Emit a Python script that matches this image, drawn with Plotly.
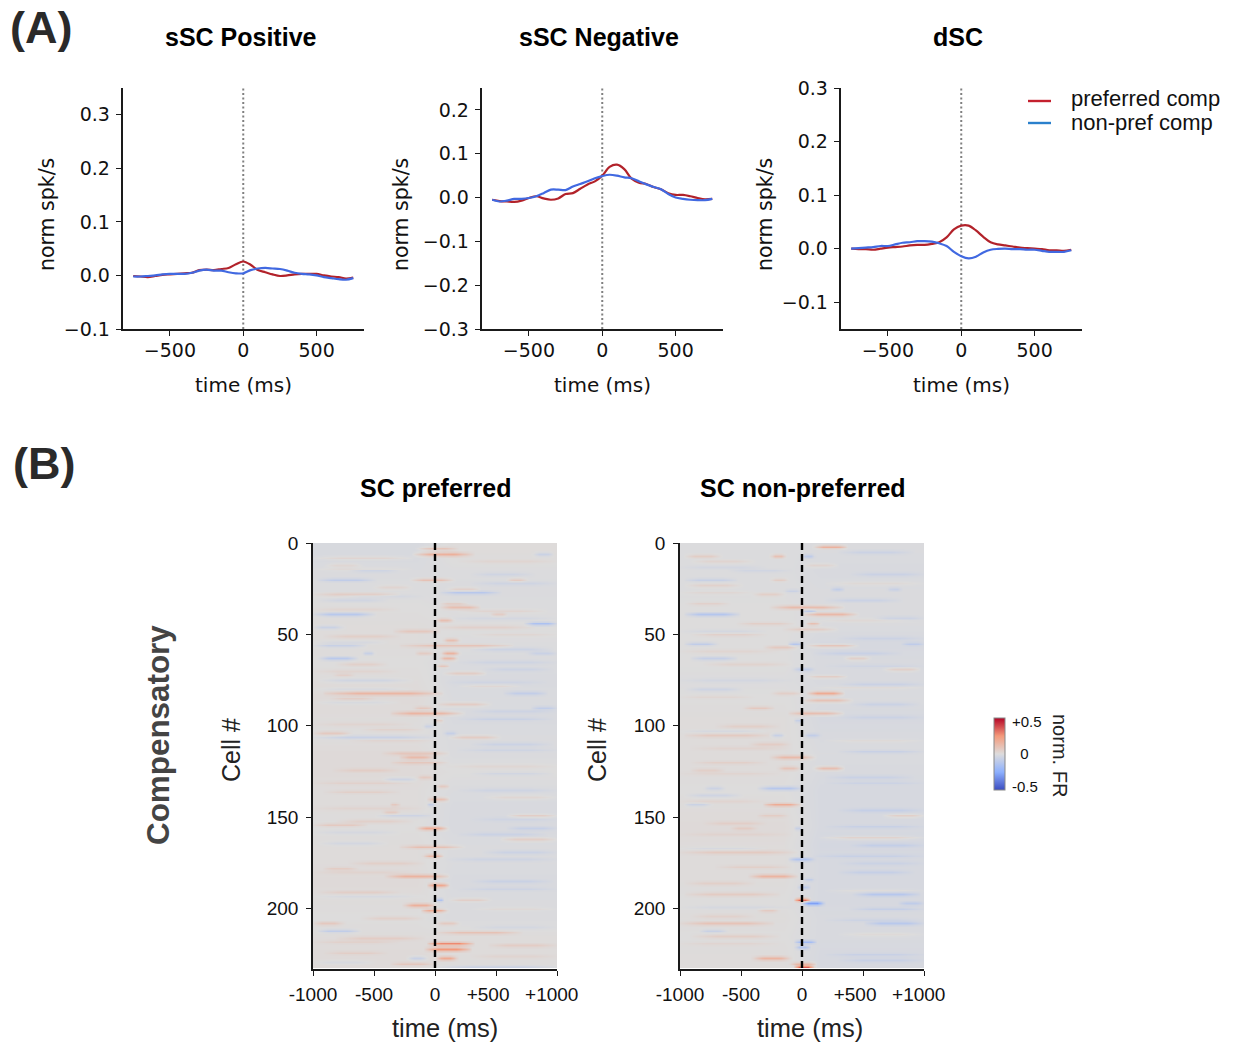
import plotly.graph_objects as go

W, H = 1235, 1045
DEJA = "DejaVu Sans"
ARIAL = "Liberation Sans"
RED, BLUE = "#b2222a", "#4169e1"
LEG_RED, LEG_BLUE = "#c4202e", "#2a80cc"

time_ms = [-750, -700, -650, -600, -550, -500, -450, -400, -350, -300, -250, -200, -150, -100, -50, 0,
           50, 100, 150, 200, 250, 300, 350, 400, 450, 500, 550, 600, 650, 700, 750]

pos_pref = [-.001, -.002, -.003, -.001, .001, .002, .003, .004, .005, .010, .011, .010, .012, .014, .021, .026,
            .020, .010, .006, .002, -.001, .000, .002, .003, .003, .003, .000, -.002, -.003, -.006, -.004]
pos_non = [-.002, -.002, -.001, .000, .002, .003, .003, .003, .005, .009, .011, .009, .009, .006, .004, .004,
           .010, .013, .014, .013, .012, .009, .005, .003, .002, .000, -.003, -.005, -.007, -.008, -.005]
neg_pref = [-.005, -.008, -.009, -.010, -.007, -.001, .003, -.002, -.005, -.002, .008, .010, .020, .030, .037, .050,
            .070, .075, .065, .043, .034, .031, .024, .019, .010, .006, .006, .003, -.001, -.004, -.003]
neg_non = [-.005, -.009, -.007, -.003, -.003, -.001, .003, .010, .018, .018, .017, .025, .031, .037, .044, .049,
           .052, .050, .046, .044, .037, .030, .024, .019, .008, .000, -.003, -.005, -.006, -.006, -.003]
dsc_pref = [.000, -.001, -.001, -.002, .000, .002, .003, .004, .006, .007, .007, .009, .012, .021, .036, .043,
            .043, .034, .022, .012, .008, .006, .004, .002, .001, .000, -.001, -.003, -.003, -.004, -.002]
dsc_non = [.000, .001, .002, .003, .005, .005, .008, .011, .012, .014, .014, .013, .010, .005, -.006, -.014,
           -.018, -.015, -.007, -.002, -.0005, .000, -.001, -.001, -.002, -.002, -.004, -.006, -.006, -.006, -.003]

n_cells = 233
heat_time = list(range(-1000, 1001, 25))
# overall tint per 10 cell rows, before and after time zero
tint_pref_before = [-.02, -.012, -.006, .00, .006, .006, .00, .006, .012, .006, .00, .012, .012, .006, .006, .00, .006, .006, .012, .006, .00, .006, .012, .006]
tint_pref_after = [.006, -.006, -.012, -.006, .00, -.006, -.012, -.018, -.012, -.018, -.012, -.012, .00, -.012, -.018, -.018, -.012, -.012, -.018, -.012, -.012, .006, .006, .00]
tint_non_before = [-.006, -.006, -.006, .00, .00, .00, .00, -.006, .00, .006, .006, .006, .006, .00, .006, .012, .006, .006, .006, .00, .006, .00, .006, .006]
tint_non_after = [-.012, -.018, -.012, -.012, -.012, -.024, -.018, -.018, -.012, -.024, -.018, -.012, -.018, -.024, -.024, -.024, -.03, -.024, -.024, -.024, -.018, -.018, -.024, -.024]
# visible streaks: (cell row, t start, t end, value)
streaks_pref = [
 (3,-150,180,.10),(6,-180,300,.18),(8,-1000,-180,.05),(6,800,970,-.07),(20,-970,-500,-.09),(20,-200,150,.12),
 (20,590,750,.08),(27,40,530,-.12),(28,-1000,-280,.07),(25,100,370,.06),(33,40,260,.07),(35,40,370,.13),
 (39,-1000,-500,-.13),(39,450,590,.07),(42,10,150,.12),(44,730,1000,-.17),(46,-1000,-750,-.07),(46,0,800,.05),
 (48,-340,40,.08),(53,70,200,.13),(56,-1000,-560,-.08),(56,-290,640,.11),(60,-170,-15,.07),(60,50,200,.18),
 (60,750,1000,-.06),(60,-600,-500,-.08),(63,-950,-640,-.12),(63,40,180,.16),(67,10,120,.10),(71,70,420,.08),
 (72,-830,-670,.05),(82,-920,70,.15),(82,560,920,-.08),(88,10,450,.08),(90,-180,-15,.08),(90,780,1000,-.08),
 (93,-370,230,.16),(97,-15,70,.07),(100,-100,-15,-.06),(104,-1000,-700,.08),(106,-1000,-15,-.07),(106,120,530,.08),
 (104,70,180,-.07),(115,-430,120,.08),(117,-290,-10,.13),(120,-370,100,.08),(124,-830,-290,.05),(128,-150,-15,.07),
 (133,10,120,.08),(129,-430,-150,-.06),(140,-70,120,.12),(143,-370,-290,.08),(143,-70,0,-.08),(147,-430,-290,.07),
 (149,-480,-15,-.06),(149,590,1000,.08),(154,-1000,-560,.08),(156,-150,100,.20),(156,590,1000,-.06),(162,530,1000,.07),
 (166,-290,230,.12),(171,-100,70,.15),(178,-920,-640,.06),(182,-400,120,.16),(187,-70,120,.23),(195,0,70,-.15),
 (195,120,450,.07),(198,-260,0,.18),(201,-120,100,.20),(208,-1000,-750,.08),(208,10,200,.08),(212,-970,-620,-.10),
 (213,10,700,.11),(219,-70,310,.30),(222,-80,290,.27),(220,430,1000,.06),(227,10,180,.20),(227,-230,-70,-.08),
 (230,-370,-15,.08),(232,10,1000,-.07),
 (12,-900,-600,.04),(15,-700,-300,-.05),(17,300,800,-.04),(24,-500,-200,.04),(31,-950,-400,-.04),(37,200,900,.04),
 (51,-900,-300,.05),(58,300,950,-.05),(66,-800,-400,.05),(69,400,950,-.04),(75,-950,-200,-.05),(78,200,700,.04),
 (85,-850,-500,.05),(96,200,950,-.05),(102,-600,-100,.04),(110,300,950,-.05),(126,300,950,-.04),(136,-900,-300,.05),
 (139,400,1000,.04),(152,-800,-200,.05),(159,200,900,-.05),(164,-950,-400,-.04),(169,400,1000,-.05),(175,-700,-100,.05),
 (185,300,950,-.05),(191,-950,-300,.05),(205,-600,-100,.05),(216,-800,-100,.06),(224,-900,-400,.05),
 (10,200,1000,.03),(14,-1000,-200,.03),(22,300,1000,-.04),(29,-800,-100,-.03),(36,-1000,-300,.03),(41,100,1000,-.03),
 (50,300,1000,.03),(54,-1000,-400,-.03),(65,200,1000,-.04),(70,-1000,-300,.03),(76,100,900,-.03),(80,-1000,-200,-.03),
 (87,-1000,-300,-.03),(92,300,1000,-.04),(99,-1000,-200,.03),(108,-700,0,.03),(113,200,1000,-.04),(122,100,1000,.03),
 (131,-1000,-200,.04),(135,200,1000,-.04),(145,-1000,-100,.03),(151,300,1000,-.03),(158,-1000,-300,-.03),(173,100,1000,-.04),
 (180,-1000,-200,.03),(189,200,1000,-.04),(193,-1000,-100,-.03),(200,300,1000,.03),(210,300,1000,-.03),(218,-1000,-300,.04),
 (226,300,1000,.03),(229,-1000,-500,-.03),
]
streaks_non = [
 (2,100,370,.19),(7,-960,-670,.07),(7,-260,-140,.12),(7,0,100,-.10),(12,10,290,.05),(20,-970,-530,-.07),(20,-260,-120,.07),
 (25,230,340,-.08),(25,700,810,-.06),(28,-400,-150,.06),(26,-150,-15,-.06),(35,-260,340,.14),(37,0,120,-.10),
 (39,-970,-510,-.14),(39,10,450,.16),(44,-530,-70,.06),(44,30,150,.13),(47,-150,290,.07),(55,-970,-700,-.10),
 (55,-120,0,-.13),(56,40,450,.12),(55,810,1000,-.08),(57,-310,-40,.08),(63,-920,-530,-.08),(63,340,560,.07),
 (69,670,970,.07),(69,-80,100,-.08),(73,40,370,.08),(82,-260,0,.06),(82,40,340,.22),(86,10,400,.12),
 (90,-480,-230,.08),(93,-120,340,.14),(97,-70,10,-.08),(105,-970,-260,.07),(105,-260,-150,-.08),(105,10,150,-.08),
 (110,-430,-100,.06),(117,-260,100,.14),(123,-200,-15,.10),(123,100,340,.14),(124,-920,-640,.05),(134,-800,-640,-.06),
 (134,-360,0,-.13),(143,-320,-15,.20),(143,-970,-750,-.07),(149,670,1000,.08),(149,-370,-120,.06),(156,-590,-370,.06),
 (156,-70,0,-.07),(161,150,1000,.07),(169,-1000,-40,.07),(173,-120,100,-.14),(182,-430,-40,.16),(184,10,100,-.08),
 (188,-40,70,-.10),(192,-970,-180,.07),(192,425,970,-.11),(195,-70,70,.38),(197,0,180,-.30),(197,780,1000,-.08),
 (201,-360,-200,.07),(208,-1000,-230,.10),(208,510,1000,-.11),(212,-840,-620,-.07),(218,-70,120,-.20),(221,-60,70,-.13),
 (227,-400,-100,.16),(230,-100,120,.17),(232,-70,100,.40),
 (5,300,900,-.05),(10,-900,-400,.04),(15,-600,-100,-.04),(17,400,1000,-.05),(23,-950,-500,.05),(31,200,800,-.05),
 (33,-950,-600,.05),(41,600,1000,-.05),(50,-900,-300,.05),(60,100,800,-.05),(66,-800,-100,.04),(77,300,1000,-.05),
 (80,-950,-500,-.05),(88,400,950,-.05),(100,-700,-200,.05),(114,300,1000,-.06),(120,-900,-300,.05),(128,200,900,-.05),
 (138,-950,-500,-.05),(146,300,1000,-.06),(153,-800,-300,.05),(165,400,1000,-.06),(177,-700,-100,.05),(180,300,900,-.06),
 (186,-950,-400,.05),(200,400,1000,-.06),(204,-900,-400,.04),(215,-900,-200,.06),(225,200,1000,-.05),
 (13,-1000,-300,-.03),(22,200,1000,.03),(27,-1000,-400,.03),(42,100,1000,.03),(48,-1000,-300,-.03),(52,300,1000,-.04),
 (59,-1000,-200,.03),(67,200,1000,-.03),(75,-1000,-100,-.03),(79,100,1000,.03),(84,-1000,-400,.03),(95,300,1000,-.04),
 (103,-1000,-300,-.03),(108,200,1000,.03),(112,-900,-100,.03),(126,-1000,-200,.03),(131,200,1000,-.04),(141,-1000,-300,.03),
 (155,200,1000,-.05),(159,-1000,-100,.03),(167,-1000,-300,-.03),(171,100,1000,-.05),(175,300,1000,-.04),(190,200,1000,.03),
 (199,-1000,-100,-.03),(206,200,1000,-.04),(214,300,1000,.03),(219,-1000,-200,.03),(228,300,1000,-.05),
]

x_ticks_a = [-500, 0, 500]
x_ticktext_a = ["\u2212500", "0", "500"]
y_ticks_pos = [-.1, 0, .1, .2, .3]
y_ticks_neg = [-.3, -.2, -.1, 0, .1, .2]
y_ticks_dsc = [-.1, 0, .1, .2, .3]
x_ticks_b = [-1000, -500, 0, 500, 1000]
x_ticktext_b = ["-1000", "-500", "0", "+500\u00a0\u00a0\u00a0", "+1000\u00a0\u00a0"]
y_ticks_b = [0, 50, 100, 150, 200]
cbar_ticks = [.5, 0, -.5]
cbar_ticktext = ["+0.5", "\u00a0\u00a00", "-0.5"]

COOLWARM = [[0, "#3b4cc0"], [.25, "#8db0fe"], [.5, "#dddcdc"], [.75, "#f49a7b"], [1, "#b40426"]]


def px_x(a, b):
    return [a / W, b / W]


def px_y(top, bottom):
    return [1 - bottom / H, 1 - top / H]


def tint_at(tints, row):
    pos = min(max(row / 10 - .5, 0), len(tints) - 1)
    low = int(pos)
    high = min(low + 1, len(tints) - 1)
    return tints[low] + (tints[high] - tints[low]) * (pos - low)


def build_matrix(streaks, tint_before, tint_after):
    z = []
    for i in range(n_cells):
        before, after = tint_at(tint_before, i), tint_at(tint_after, i)
        z.append([before + (after - before) * min(max((t + 150) / 300, 0), 1) for t in heat_time])
    for row, t0, t1, val in streaks:
        mid, half = (t0 + t1) / 2, max((t1 - t0) / 2, 25)
        for j, t in enumerate(heat_time):
            if t0 <= t <= t1:
                amount = val * min(1, 1.5 * (1 - abs(t - mid) / half) + .15)
                z[row][j] += amount
                if row > 0:
                    z[row - 1][j] += .3 * amount
                if row < n_cells - 1:
                    z[row + 1][j] += .3 * amount
    return z


fig = go.Figure()

panels = [
    ("x", "y", 122.5, 364, [-.1, .35], y_ticks_pos, ["\u22120.1", "0.0", "0.1", "0.2", "0.3"], pos_pref, pos_non, 47),
    ("x2", "y2", 481.5, 723, [-.3, .25], y_ticks_neg, ["\u22120.3", "\u22120.2", "\u22120.1", "0.0", "0.1", "0.2"], neg_pref, neg_non, 401),
    ("x3", "y3", 840.5, 1082, [-.15, .3], y_ticks_dsc, ["\u22120.1", "0.0", "0.1", "0.2", "0.3"], dsc_pref, dsc_non, 765),
]
SPINE = dict(showgrid=False, zeroline=False, showline=True, linecolor="#1a1a1a", linewidth=1.6, automargin=False,
             ticks="outside", tickcolor="#1a1a1a", tickwidth=1.4, ticklen=5)


def note(text, px, py, size, family=DEJA, angle=0, color="#111", bold=False, anchor="center"):
    body = f"<b>{text}</b>" if bold else text
    return dict(text=body, x=px / W, y=1 - py / H, xref="paper", yref="paper", showarrow=False, xanchor=anchor,
                yanchor="middle", textangle=angle, font=dict(family=family, size=size, color=color))


ann = []
layout = {}
for xa, ya, left, right, yr, yt, ytt, pref, non, ylab_x in panels:
    fig.add_trace(go.Scatter(x=[0, 0], y=yr, xaxis=xa, yaxis=ya, mode="lines", showlegend=False, hoverinfo="skip",
                             line=dict(color="#808080", width=2, dash="2px,2.5px")))
    fig.add_trace(go.Scatter(x=time_ms, y=pref, xaxis=xa, yaxis=ya, mode="lines", name="preferred comp", showlegend=False,
                             line=dict(color=RED, width=2.2, shape="spline", smoothing=.9)))
    fig.add_trace(go.Scatter(x=time_ms, y=non, xaxis=xa, yaxis=ya, mode="lines", name="non-pref comp", showlegend=False,
                             line=dict(color=BLUE, width=2.2, shape="spline", smoothing=.9)))
    xk = xa.replace("x", "xaxis")
    yk = ya.replace("y", "yaxis")
    layout[xk] = dict(domain=px_x(left, right), range=[-823, 823], anchor=ya, tickvals=x_ticks_a, ticktext=x_ticktext_a,
                      tickangle=0, ticklabelstandoff=-2, tickfont=dict(family=DEJA, size=19, color="#111"), **SPINE)
    layout[yk] = dict(domain=px_y(88, 329), range=yr, anchor=xa, tickvals=yt, ticktext=ytt, ticklabelstandoff=2,
                      tickfont=dict(family=DEJA, size=19, color="#111"), **SPINE)
    ann.append(note("time (ms)", (left + right) / 2, 385, 20))
    ann.append(note("norm spk/s", ylab_x, 215, 20.5, angle=-90))

heat_panels = [("x4", "y4", 313, 557, streaks_pref, tint_pref_before, tint_pref_after, True, 445, 231),
               ("x5", "y5", 680, 924, streaks_non, tint_non_before, tint_non_after, False, 810, 597)]
for xa, ya, left, right, streaks, tb, ta, show, xlab_x, ylab_x in heat_panels:
    fig.add_trace(go.Heatmap(
        z=build_matrix(streaks, tb, ta), x=heat_time, y=list(range(n_cells)), xaxis=xa, yaxis=ya,
        colorscale=COOLWARM, zmin=-.55, zmax=.55, zsmooth="best", showscale=show,
        colorbar=dict(thickness=11, len=72, lenmode="pixels", x=994 / W, xanchor="left", xpad=0, ypad=0,
                      y=1 - 754 / H, yanchor="middle", tickvals=cbar_ticks, ticktext=cbar_ticktext,
                      ticks="outside", ticklen=4, tickcolor="rgba(0,0,0,0)",
                      tickfont=dict(family=ARIAL, size=15, color="#111"), outlinecolor="#888", outlinewidth=1)))
    fig.add_trace(go.Scatter(x=[0, 0], y=[0, n_cells], xaxis=xa, yaxis=ya, mode="lines", showlegend=False,
                             hoverinfo="skip", line=dict(color="black", width=2.4, dash="7px,4px")))
    xk = xa.replace("x", "xaxis")
    yk = ya.replace("y", "yaxis")
    layout[xk] = dict(domain=px_x(left, right), range=[-1000, 1000], anchor=ya, tickvals=x_ticks_b, ticktext=x_ticktext_b,
                      tickangle=0, ticklabelstandoff=2, tickfont=dict(family=ARIAL, size=19, color="#111"), **SPINE)
    layout[yk] = dict(domain=px_y(543, 969), range=[n_cells, 0], anchor=xa, tickvals=y_ticks_b, ticklabelstandoff=4,
                      tickfont=dict(family=ARIAL, size=19, color="#111"), **SPINE)
    ann.append(note("time (ms)", xlab_x, 1028, 25.5, family=ARIAL, color="#222"))
    ann.append(note("Cell #", ylab_x, 750, 25, family=ARIAL, angle=-90, color="#222"))

ann += [
    note("(A)", 41, 28, 45, family=ARIAL, color="#2a2a2a", bold=True),
    note("(B)", 44, 463, 45, family=ARIAL, color="#2a2a2a", bold=True),
    note("sSC Positive", 241, 37, 25, family=ARIAL, color="black", bold=True),
    note("sSC Negative", 599, 37, 25, family=ARIAL, color="black", bold=True),
    note("dSC", 958, 37, 25, family=ARIAL, color="black", bold=True),
    note("SC preferred", 435, 488, 25, family=ARIAL, color="black", bold=True),
    note("SC non-preferred", 803, 488, 25, family=ARIAL, color="black", bold=True),
    note("Compensatory", 158, 735, 31.4, family=ARIAL, angle=-90, color="#444444", bold=True),
    note("norm. FR", 1060, 755, 20, family=ARIAL, angle=90, color="#222"),
    note("preferred comp", 1069, 99, 22, family=ARIAL, anchor="left"),
    note("non-pref comp", 1069, 123, 22, family=ARIAL, anchor="left"),
]
legend_keys = [dict(type="line", xref="paper", yref="paper", x0=1028 / W, x1=1051 / W, y0=1 - py / H, y1=1 - py / H,
                    line=dict(color=c, width=2.4)) for py, c in [(101, LEG_RED), (123, LEG_BLUE)]]

fig.update_layout(width=W, height=H, margin=dict(l=0, r=0, t=0, b=0, autoexpand=False), paper_bgcolor="white",
                  plot_bgcolor="white", annotations=ann, shapes=legend_keys, showlegend=False, **layout)
fig.write_html("out.html", config=dict(displayModeBar=False),
               post_script="document.body.style.margin='0';document.body.style.overflow='hidden';")
